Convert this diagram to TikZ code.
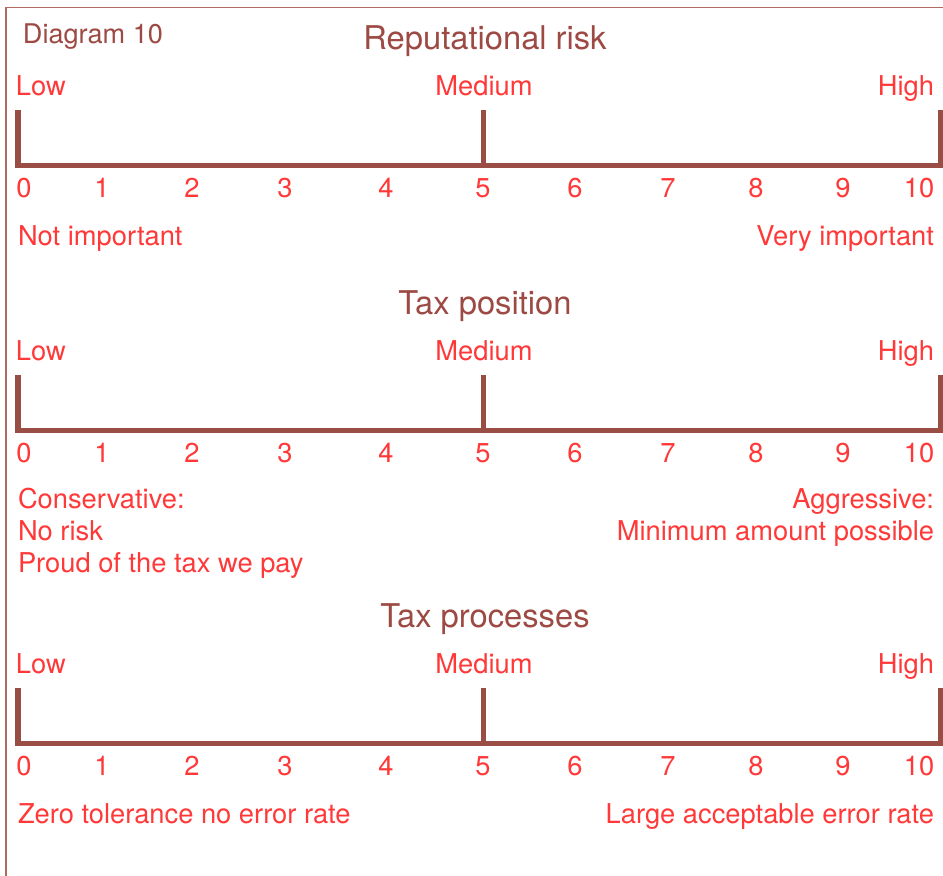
\documentclass[tikz,border=0pt]{standalone}
\usepackage{fontspec}
\setmainfont{TeX Gyre Heros}
\definecolor{scalered}{HTML}{FF3838}
\definecolor{titlebrown}{HTML}{9C4A43}
\definecolor{barbrown}{HTML}{9A4D45}
\definecolor{framebrown}{HTML}{B06A60}
\tikzset{
  lbl/.style={text=scalered, font=\fontsize{27.3}{32}\selectfont, inner sep=0pt, outer sep=0pt},
  ttl/.style={text=titlebrown, font=\fontsize{32.7}{38}\selectfont, inner sep=0pt, outer sep=0pt},
  tag/.style={text=titlebrown, font=\fontsize{27.1}{32}\selectfont, inner sep=0pt, outer sep=0pt},
  scalebar/.style={draw=barbrown, line width=5.5pt, line join=miter},
  framerule/.style={draw=framebrown, line width=1.6pt},
}
% #1 prefix, #2 baseline y of Low/Medium/High, #3 title
\newcommand\ratingscale[3]{%
  \node[ttl, anchor=base] (#1title) at (485,#2-46) {#3};
  \node[lbl, anchor=base west] (#1low) at (16,#2) {Low};
  \node[lbl, anchor=base] (#1med) at (484,#2) {Medium};
  \node[lbl, anchor=base east] (#1high) at (934,#2) {High};
  \coordinate (#1lt) at (18,#2+15);
  \coordinate (#1lb) at (18,#2+70.5);
  \coordinate (#1mt) at (483.5,#2+15);
  \coordinate (#1mb) at (483.5,#2+70.5);
  \coordinate (#1rt) at (940.5,#2+15);
  \coordinate (#1rb) at (940.5,#2+70.5);
  \draw[scalebar] (#1lt) -- (#1lb) -- (#1rb) -- (#1rt);
  \draw[scalebar] (#1mt) -- (#1mb);
  \foreach \n/\xx in {0/24,1/102,2/192,3/285,4/386,5/483,6/575,7/668,8/756,9/843,10/919}
    \node[lbl, anchor=base] (#1n\n) at (\xx,#2+102) {\n};
}
\begin{document}
\begin{tikzpicture}[x=1pt,y=-1pt]
  \useasboundingbox (0,0) rectangle (943,876);
  \fill[white] (0,0) rectangle (943,876);
  \coordinate (frameTR) at (943,7.5);
  \coordinate (frameTL) at (6,7.5);
  \coordinate (frameBL) at (6,876);
  \draw[framerule] (frameTR) -- (frameTL) -- (frameBL);

  \node[tag, anchor=base west] (diag) at (23,43) {Diagram 10};

  \ratingscale{a}{95}{Reputational risk}
  \node[lbl, anchor=base west] (aleft) at (18,245) {Not important};
  \node[lbl, anchor=base east] (aright) at (934,245) {Very important};

  \ratingscale{b}{360}{Tax position}
  \node[lbl, anchor=base west] (bleft1) at (18,508) {Conservative:};
  \node[lbl, anchor=base west] (bleft2) at (18,540) {No risk};
  \node[lbl, anchor=base west] (bleft3) at (18,572) {Proud of the tax we pay};
  \node[lbl, anchor=base east] (bright1) at (934,508) {Aggressive:};
  \node[lbl, anchor=base east] (bright2) at (934,540) {Minimum amount possible};

  \ratingscale{c}{673}{Tax processes}
  \node[lbl, anchor=base west] (cleft) at (18,823) {Zero tolerance no error rate};
  \node[lbl, anchor=base east] (cright) at (934,823) {Large acceptable error rate};
\end{tikzpicture}
\end{document}
